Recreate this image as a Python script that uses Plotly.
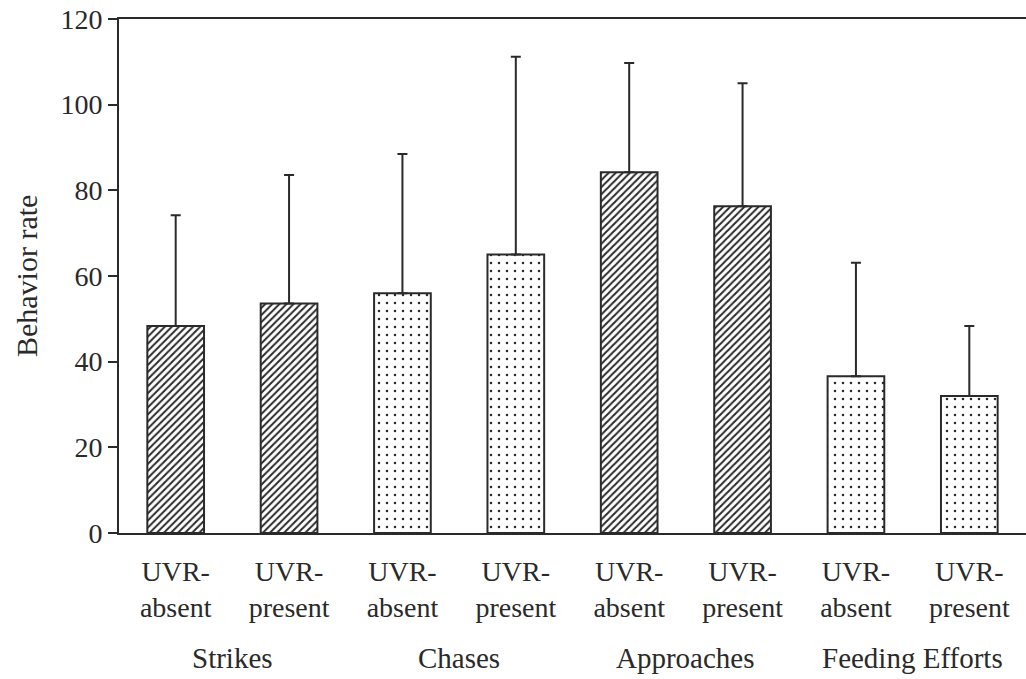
import plotly.graph_objects as go

categories = ["UVR-<br>absent", "UVR-<br>present"] * 4
groups = ["Strikes", "Chases", "Approaches", "Feeding Efforts"]
means = [48.3, 53.6, 56.0, 65.0, 84.2, 76.3, 36.6, 32.0]
upper = [74.2, 83.6, 88.5, 111.2, 109.7, 105.0, 63.1, 48.3]
patterns = ["/", "/", ".", ".", "/", "/", ".", "."]
yticks = [0, 20, 40, 60, 80, 100, 120]

xpos = list(range(len(means)))
err = [u - m for u, m in zip(upper, means)]
sizes = [5 if p == "/" else 8 for p in patterns]
solid = [0.4 if p == "/" else 0.08 for p in patterns]

FONT = "Liberation Serif"
INK = "#2a2a2a"

fig = go.Figure()
fig.add_trace(go.Bar(
    x=xpos, y=means, width=0.5,
    marker=dict(color="white",
                line=dict(color=INK, width=2),
                pattern=dict(shape=patterns, fgcolor=INK, bgcolor="white",
                             size=sizes, solidity=solid, fillmode="replace")),
    error_y=dict(type="data", symmetric=False, array=err,
                 arrayminus=[0] * len(err), color=INK, thickness=2, width=5),
    showlegend=False,
))

fig.update_layout(
    width=1026, height=679,
    margin=dict(l=119, r=0, t=19, b=146),
    paper_bgcolor="white", plot_bgcolor="white",
    font=dict(family=FONT, size=28, color=INK),
    bargap=0.5,
)
fig.update_xaxes(
    range=[-0.5, 7.5], tickmode="array", tickvals=xpos, ticktext=categories,
    showline=True, linecolor=INK, linewidth=2, mirror=True,
    ticks="", showgrid=False, zeroline=False,
    tickfont=dict(family=FONT, size=28, color=INK),
    ticklabelstandoff=12,
)
fig.update_yaxes(
    range=[0, 120], tickmode="array", tickvals=yticks,
    showline=True, linecolor=INK, linewidth=2,
    ticks="outside", ticklen=9, tickwidth=2, tickcolor=INK,
    showgrid=False, zeroline=False,
    tickfont=dict(family=FONT, size=28, color=INK),
)

for i, g in enumerate(groups):
    fig.add_annotation(x=2 * i + 0.5, y=-0.243, xref="x", yref="paper",
                       text=g, showarrow=False, xanchor="center", yanchor="middle",
                       font=dict(family=FONT, size=29, color=INK))

fig.add_annotation(x=-0.1025, y=0.5, xref="paper", yref="paper",
                   text="Behavior rate", textangle=-90, showarrow=False,
                   xanchor="center", yanchor="middle",
                   font=dict(family=FONT, size=30, color=INK))

fig.write_html("out.html")
